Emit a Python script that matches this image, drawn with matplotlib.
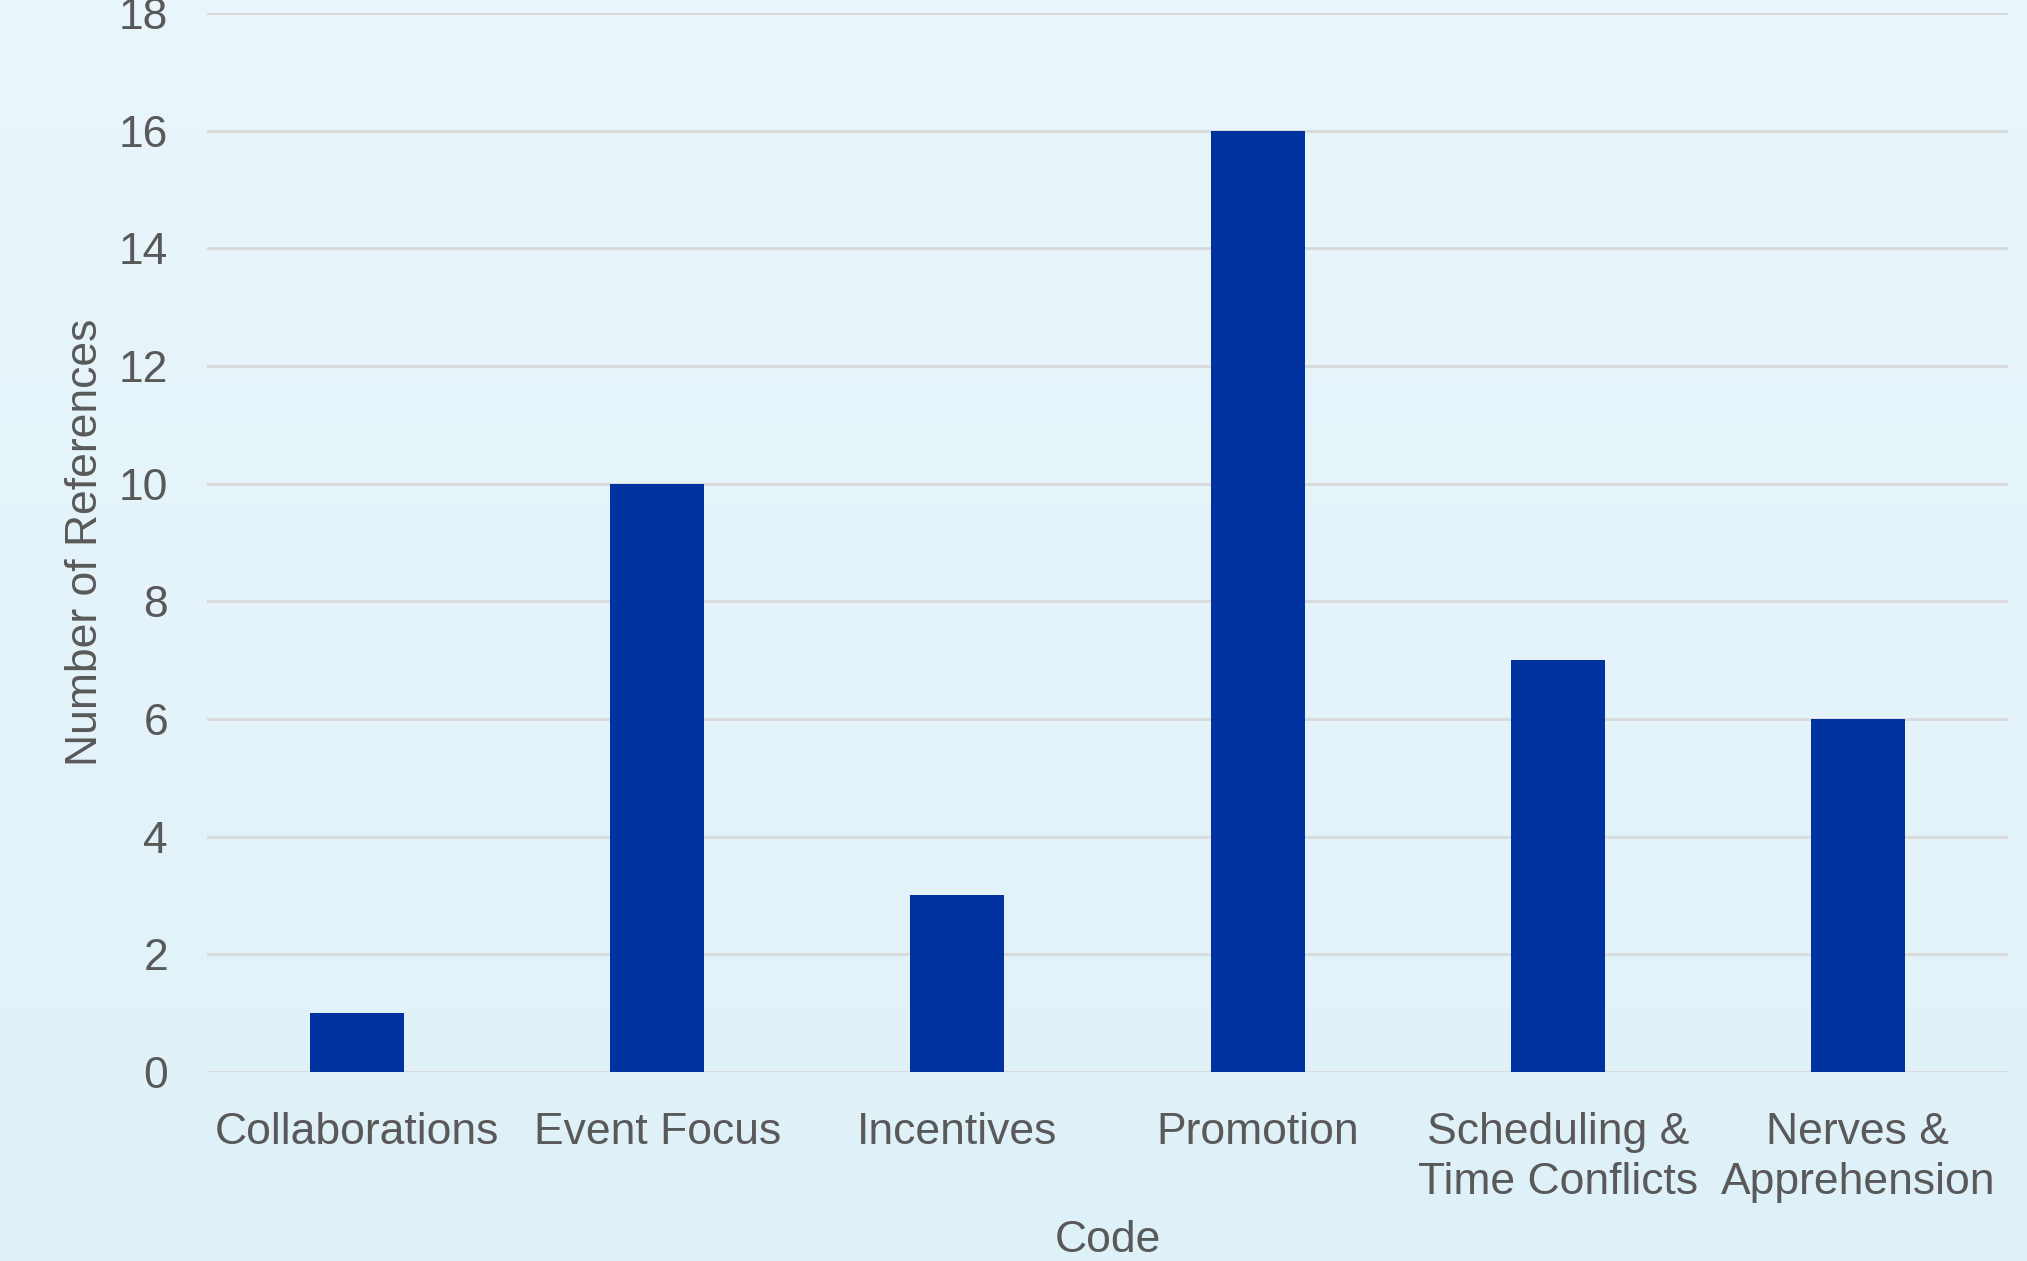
import numpy as np
import matplotlib
matplotlib.use("Agg")
import matplotlib.pyplot as plt

# data
codes = ["Collaborations", "Event Focus", "Incentives", "Promotion",
         "Scheduling &\nTime Conflicts", "Nerves &\nApprehension"]
refs = [1, 10, 3, 16, 7, 6]
yticks = [0, 2, 4, 6, 8, 10, 12, 14, 16, 18]

plt.rcParams['font.family'] = ['Liberation Sans', 'DejaVu Sans']
txt = '#595959'

fig = plt.figure(figsize=(20.27, 12.61), dpi=100)

# background gradient
bg = fig.add_axes([0, 0, 1, 1], zorder=-10)
top = np.array([233, 246, 251]) / 255
bot = np.array([223, 241, 248]) / 255
t = np.linspace(0, 1, 256)[:, None]
grad = top[None, :] * (1 - t) + bot[None, :] * t
bg.imshow(grad[:, None, :], aspect='auto', extent=[0, 1, 0, 1])
bg.axis('off')

ax = fig.add_axes([0.1021, 0.1499, 0.8885, 0.8398])
ax.set_facecolor('none')
x = np.arange(len(codes))
ax.bar(x, refs, width=0.313, color='#0033A0', zorder=3)

ax.set_xlim(-0.5, len(codes) - 0.5)
ax.set_ylim(0, 18)
ax.set_yticks(yticks)
ax.set_xticks(x)
ax.set_xticklabels(codes, linespacing=1.27)
ax.grid(axis='y', color='#D9D9D9', linewidth=2, zorder=0)
ax.set_axisbelow(True)
for s in ['top', 'right', 'left', 'bottom']:
    ax.spines[s].set_visible(False)
ax.tick_params(axis='both', length=0, labelsize=32, labelcolor=txt)
ax.tick_params(axis='y', pad=28)
ax.tick_params(axis='x', pad=29)

ax.set_xlabel('Code', fontsize=32, color=txt, labelpad=12)
ax.set_ylabel('Number of References', fontsize=32, color=txt, labelpad=9)

fig.savefig('out.png', dpi=100)
